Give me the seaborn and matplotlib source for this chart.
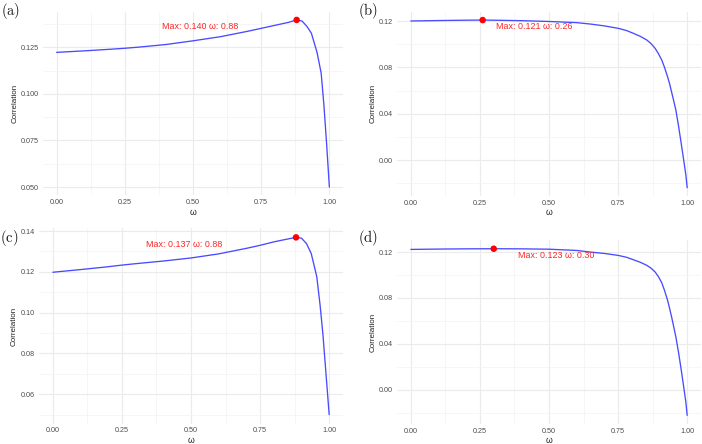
import matplotlib
matplotlib.use("Agg")
import matplotlib.pyplot as plt
from matplotlib.ticker import MultipleLocator, FormatStrFormatter
import seaborn as sns
import pandas as pd

# values, one set per panel
omega_a = [0.00, 0.10, 0.20, 0.25, 0.30, 0.40, 0.50, 0.60, 0.70, 0.75, 0.80, 0.85, 0.88,
           0.90, 0.918, 0.934, 0.955, 0.97, 0.98, 0.99, 1.00]
corr_a = [0.1223, 0.1231, 0.1240, 0.1245, 0.1251, 0.1265, 0.1285, 0.1307, 0.1336, 0.1352,
          0.1368, 0.1384, 0.1397, 0.1391, 0.1362, 0.1326, 0.1222, 0.1111, 0.0940, 0.0730,
          0.0500]

omega_b = [0.00, 0.10, 0.20, 0.26, 0.30, 0.40, 0.50, 0.60, 0.649, 0.70, 0.75, 0.78, 0.805,
           0.83, 0.854, 0.87, 0.884, 0.896, 0.908, 0.918, 0.929, 0.936, 0.944, 0.952, 0.959,
           0.969, 0.977, 0.987, 0.995, 1.00]
corr_b = [0.1200, 0.1204, 0.1207, 0.1208, 0.1207, 0.1203, 0.1196, 0.1186, 0.1174, 0.1158,
          0.1137, 0.1118, 0.1094, 0.1068, 0.1036, 0.1003, 0.0964, 0.0918, 0.0863, 0.0800,
          0.0719, 0.0662, 0.0583, 0.0503, 0.0432, 0.0290, 0.0165, 0.0005, -0.0125, -0.0239]

omega_c = [0.00, 0.10, 0.20, 0.25, 0.30, 0.40, 0.50, 0.60, 0.70, 0.75, 0.80, 0.85, 0.88,
           0.90, 0.918, 0.935, 0.955, 0.967, 0.977, 0.986, 1.00]
corr_c = [0.1198, 0.1211, 0.1225, 0.1233, 0.1240, 0.1253, 0.1268, 0.1288, 0.1315, 0.1330,
          0.1347, 0.1361, 0.1369, 0.1365, 0.1338, 0.1290, 0.1177, 0.1038, 0.0899, 0.0743,
          0.0500]

omega_d = [0.00, 0.10, 0.20, 0.30, 0.40, 0.50, 0.60, 0.649, 0.70, 0.75, 0.78, 0.805, 0.83,
           0.854, 0.87, 0.884, 0.896, 0.908, 0.918, 0.929, 0.936, 0.944, 0.952, 0.959, 0.969,
           0.977, 0.987, 0.995, 1.00]
corr_d = [0.1223, 0.1226, 0.1228, 0.1229, 0.1228, 0.1225, 0.1214, 0.1200, 0.1188, 0.1171,
          0.1155, 0.1133, 0.1111, 0.1084, 0.1058, 0.1026, 0.0985, 0.0932, 0.0865, 0.0780,
          0.0712, 0.0630, 0.0540, 0.0460, 0.0320, 0.0195, 0.0030, -0.0105, -0.0225]

panel_tags = ["(a)", "(b)", "(c)", "(d)"]
y_major = [0.025, 0.04, 0.02, 0.04]
y_fmt = ["%.3f", "%.2f", "%.2f", "%.2f"]
# where the red label sits (data coords, centre of text)
label_pos = [(0.527, 0.1360), (0.446, 0.1151), (0.476, 0.1334), (0.525, 0.1171)]

sns.set_theme(style="white")
plt.rcParams["font.family"] = ["Liberation Sans", "DejaVu Sans"]
plt.rcParams["mathtext.fontset"] = "cm"

W, H = 702, 444
fig = plt.figure(figsize=(W / 100, H / 100), dpi=100)

# axes boxes in pixels: left, right, top, bottom
boxes = [(43, 343, 11.6, 195.4), (397, 701, 11.7, 196.1),
         (39, 343, 228.5, 423.5), (397, 701, 240.4, 423.7)]
tag_xy = [(1, 11), (358, 11), (0, 238), (358, 238)]

series = [(omega_a, corr_a), (omega_b, corr_b), (omega_c, corr_c), (omega_d, corr_d)]

for i, (om, co) in enumerate(series):
    l, r, t, b = boxes[i]
    ax = fig.add_axes([l / W, 1 - b / H, (r - l) / W, (b - t) / H])
    df = pd.DataFrame({"omega": om, "corr": co})
    sns.lineplot(data=df, x="omega", y="corr", ax=ax, color="#4a4aff", lw=0.95)
    k = df["corr"].idxmax()
    best = df.loc[[k]]
    sns.scatterplot(data=best, x="omega", y="corr", ax=ax, color="#ff0000",
                    s=22, edgecolor="none", zorder=5)
    ax.text(label_pos[i][0], label_pos[i][1],
            f"Max: {best['corr'].iloc[0]:.3f} ω: {best['omega'].iloc[0]:.2f}",
            color="#ff2424", fontsize=6.4, ha="center", va="center")

    ax.margins(0.05)
    ax.xaxis.set_major_locator(MultipleLocator(0.25))
    ax.xaxis.set_minor_locator(MultipleLocator(0.125))
    ax.xaxis.set_major_formatter(FormatStrFormatter("%.2f"))
    ax.yaxis.set_major_locator(MultipleLocator(y_major[i]))
    ax.yaxis.set_minor_locator(MultipleLocator(y_major[i] / 2))
    ax.yaxis.set_major_formatter(FormatStrFormatter(y_fmt[i]))
    ax.grid(which="major", color="#ebebeb", lw=0.8)
    ax.grid(which="minor", color="#f3f3f3", lw=0.5)
    ax.set_axisbelow(True)
    for s in ax.spines.values():
        s.set_visible(False)
    ax.tick_params(which="both", length=0, labelsize=5.2, labelcolor="#4d4d4d", pad=2.8)
    ax.set_xlabel("ω", fontsize=6.2, color="#222222", labelpad=1)
    ax.set_ylabel("Correlation", fontsize=5.8, color="#222222", labelpad=2)

    tx, ty = tag_xy[i]
    fig.text(tx / W, 1 - ty / H, r"$\mathrm{" + panel_tags[i] + "}$",
             fontsize=10.5, ha="left", va="center", color="#111111")

fig.savefig("out.png", dpi=100, facecolor="white")
